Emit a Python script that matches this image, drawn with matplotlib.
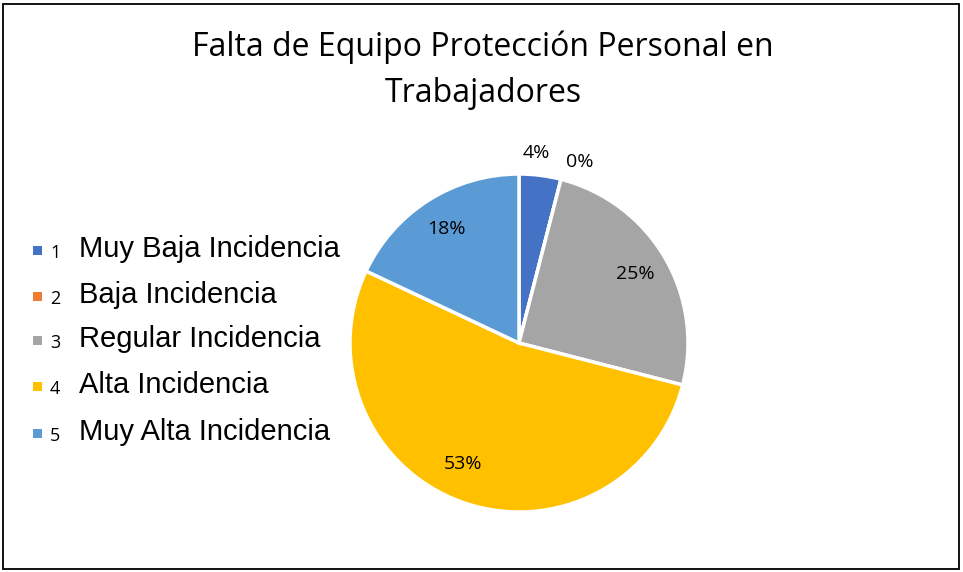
import numpy as np
import matplotlib
matplotlib.use("Agg")
import matplotlib.pyplot as plt
from matplotlib.patches import Rectangle

# Data
categories = ["1", "2", "3", "4", "5"]
descriptions = ["Muy Baja Incidencia", "Baja Incidencia", "Regular Incidencia",
                "Alta Incidencia", "Muy Alta Incidencia"]
percentages = [4, 0, 25, 53, 18]
colors = ["#4472C4", "#ED7D31", "#A5A5A5", "#FFC000", "#5B9BD5"]
title = "Falta de Equipo Protección Personal en\nTrabajadores"

W, H = 963, 572
fig = plt.figure(figsize=(W / 100, H / 100), dpi=100)

# outer frame
fig.patches.append(Rectangle((3 / W, 3 / H), (W - 7) / W, (H - 7) / H,
                             transform=fig.transFigure, fill=False,
                             edgecolor="black", linewidth=1.3))

fig.text(483 / W, 1 - 70 / H, title, ha="center", va="center",
         fontsize=23, family="Open Sans", linespacing=1.5)

# pie axes: centre (519,343) px, radius 169 px
cx, cy, r = 519, 343, 169
lim = 1.3
side = 2 * r * lim
ax = fig.add_axes([(cx - side / 2) / W, (H - cy - side / 2) / H, side / W, side / H])
wedges, _ = ax.pie(percentages, colors=colors, startangle=90, counterclock=False,
                   wedgeprops=dict(edgecolor="white", linewidth=2.5))
ax.set_xlim(-lim, lim)
ax.set_ylim(-lim, lim)
ax.set_aspect("equal")
ax.axis("off")

for w, p in zip(wedges, percentages):
    ang = np.deg2rad((w.theta1 + w.theta2) / 2)
    if p < 5:
        d = 1.13
        ang = ang + (np.deg2rad(2) if p > 0 else np.deg2rad(-4))
    elif p > 50:
        d = 0.79
        ang = ang - np.deg2rad(5)
    else:
        d = 0.8
    ax.text(d * np.cos(ang), d * np.sin(ang), f"{p}%", ha="center", va="center",
            fontsize=14, family="Open Sans")

# legend drawn by hand
ys = [251, 297, 341, 387, 434]
for y, c, cat, desc in zip(ys, colors, categories, descriptions):
    fig.patches.append(Rectangle((33 / W, 1 - (y + 4) / H), 9 / W, 9 / H,
                                 transform=fig.transFigure, facecolor=c,
                                 edgecolor="none"))
    fig.text(50 / W, 1 - (y + 2) / H, cat, ha="left", va="center",
             fontsize=13, family="Open Sans")
    fig.text(79 / W, 1 - (y - 2) / H, desc, ha="left", va="center",
             fontsize=21, family="Liberation Sans")

fig.savefig("out.png", dpi=100)
